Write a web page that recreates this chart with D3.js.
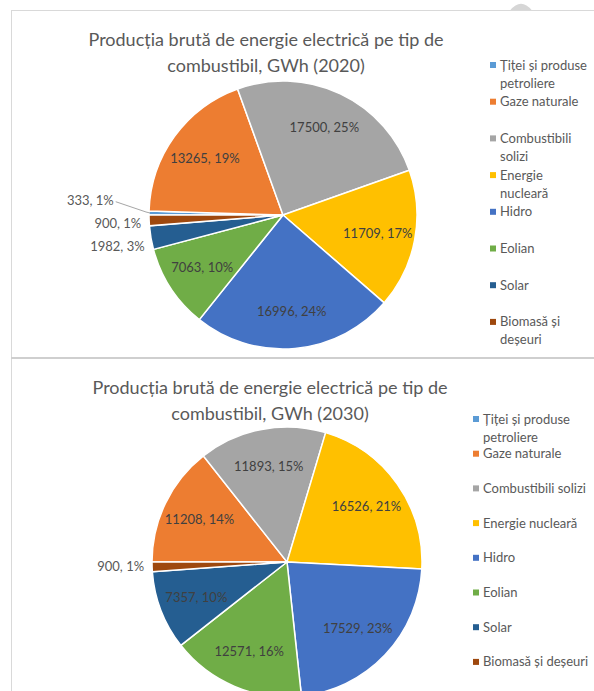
<!DOCTYPE html>
<html>
<head>
<meta charset="utf-8">
<script src="https://cdn.jsdelivr.net/npm/d3@7"></script>
<style>
    html, body { margin: 0; padding: 0; background: #fff; }
    svg { display: block; font-family: Lato, "Open Sans", sans-serif; }
</style>
</head>
<body>
<div id="chart"></div>
<script>

// data

var categories = ['Țiței și produse petroliere', 'Gaze naturale', 'Combustibili solizi', 'Energie nucleară',
    'Hidro', 'Eolian', 'Solar', 'Biomasă și deșeuri'];

var colors = ['#5B9BD5', '#ED7D31', '#A5A5A5', '#FFC000', '#4472C4', '#70AD47', '#255E91', '#9E480E'];

var values2020 = [333, 13265, 17500, 11709, 16996, 7063, 1982, 900];
var percent2020 = [1, 19, 25, 17, 24, 10, 3, 1];

var values2030 = [0, 11208, 11893, 16526, 17529, 12571, 7357, 900];
var percent2030 = [0, 14, 15, 21, 23, 16, 10, 1];

var title2020 = ['Producția brută de energie electrică pe tip de', 'combustibil, GWh (2020)'];
var title2030 = ['Producția brută de energie electrică pe tip de', 'combustibil, GWh (2030)'];

var width = 594,
    height = 691;

var svg = d3.select('#chart').append('svg')
    .attr('width', width)
    .attr('height', height);

// frame of the two chart boxes
var frame = svg.append('g').attr('fill', 'none');
frame.append('path')
    .attr('d', 'M510,10.5 Q521,-3 532,10.5 Z')
    .attr('fill', '#d6d6d6');
frame.append('line').attr('x1', 11).attr('y1', 10.5).attr('x2', width).attr('y2', 10.5)
    .attr('stroke', '#d9d9d9');
frame.append('line').attr('x1', 11.5).attr('y1', 10).attr('x2', 11.5).attr('y2', height)
    .attr('stroke', '#d9d9d9');
frame.append('line').attr('x1', 11).attr('y1', 358).attr('x2', width).attr('y2', 358)
    .attr('stroke', '#cfcfcf').attr('stroke-width', 2);

function PieChart(options) {
    options = options || {};
    this.parent = options.parent;
    this.values = options.values || [];
    this.percent = options.percent || [];
    this.title = options.title || [];
    this.cx = options.cx;
    this.cy = options.cy;
    this.radius = options.radius;
    this.titleX = options.titleX;
    this.titleY = options.titleY;
    this.legendX = options.legendX;
    this.legendY = options.legendY;
    this.legendStep = options.legendStep;
    this.legendWrap = options.legendWrap;
    this.labelGap = options.labelGap || 23;
}

PieChart.prototype.render = function() {
    var self = this;
    var g = this.parent.append('g');

    // title
    var title = g.append('text')
        .attr('text-anchor', 'middle')
        .attr('fill', '#595959')
        .attr('font-size', 18);
    this.title.forEach(function(line, i) {
        title.append('tspan')
            .attr('x', self.titleX)
            .attr('y', self.titleY + i * 26)
            .text(line);
    });

    var items = categories.map(function(name, i) {
        return { name: name, value: self.values[i], percent: self.percent[i], color: colors[i] };
    });
    var total = d3.sum(items, function(d) { return d.value; });

    var pie = d3.pie()
        .sort(null)
        .startAngle(-Math.PI / 2)
        .endAngle(Math.PI * 3 / 2)
        .value(function(d) { return d.value; });

    var arcs = pie(items);
    var r = this.radius;

    var arc = d3.arc().innerRadius(0).outerRadius(r);
    var labelArc = d3.arc().innerRadius(r * 0.72).outerRadius(r * 0.72);

    var pieG = g.append('g').attr('transform', 'translate(' + this.cx + ',' + this.cy + ')');

    pieG.selectAll('path.slice')
        .data(arcs.filter(function(d) { return d.data.value > 0; }))
        .enter().append('path')
        .attr('class', 'slice')
        .attr('d', arc)
        .attr('fill', function(d) { return d.data.color; })
        .attr('stroke', '#fff')
        .attr('stroke-width', 1.5);

    function labelText(d) {
        return d.data.value + ', ' + d.data.percent + '%';
    }

    var inside = arcs.filter(function(d) { return d.data.value > 0 && d.data.value / total >= 0.05; });
    var outside = arcs.filter(function(d) { return d.data.value > 0 && d.data.value / total < 0.05; });

    pieG.selectAll('text.inside')
        .data(inside)
        .enter().append('text')
        .attr('class', 'inside')
        .attr('transform', function(d) { return 'translate(' + labelArc.centroid(d) + ')'; })
        .attr('text-anchor', 'middle')
        .attr('dy', '0.35em')
        .attr('font-size', 13)
        .attr('fill', '#404040')
        .text(labelText);

    // outside labels on the left, pushed apart vertically
    var out = outside.map(function(d) {
        var a = (d.startAngle + d.endAngle) / 2;
        return { d: d, a: a, y: -Math.cos(a) * r };
    });
    out.sort(function(a, b) { return a.y - b.y; });
    for (var k = 0; k < 60; k++) {
        for (var i = 1; i < out.length; i++) {
            var a0 = out[i - 1], a1 = out[i];
            if (a1.y - a0.y < self.labelGap) {
                var m = (a0.y + a1.y) / 2;
                a0.y = m - self.labelGap / 2;
                a1.y = m + self.labelGap / 2;
            }
        }
    }
    out.forEach(function(o) {
        var R = r + 8;
        var x = -Math.sqrt(Math.max(0, R * R - o.y * o.y));
        var small = o.d.data.value / total < 0.01;
        if (small) {
            x -= 28;
            var ex = Math.sin(o.a) * r, ey = -Math.cos(o.a) * r;
            pieG.append('polyline')
                .attr('points', [[x + 2, o.y + 1], [ex - 3, ey - 1], [ex + 1, ey]].join(' '))
                .attr('fill', 'none')
                .attr('stroke', '#a6a6a6')
                .attr('stroke-width', 1);
        }
        pieG.append('text')
            .attr('x', x)
            .attr('y', o.y)
            .attr('dy', '0.35em')
            .attr('text-anchor', 'end')
            .attr('font-size', 13)
            .attr('fill', '#595959')
            .text(labelText(o.d));
    });

    // legend
    var legend = g.append('g');
    items.forEach(function(d, i) {
        var y = self.legendY + i * self.legendStep;
        legend.append('rect')
            .attr('x', self.legendX)
            .attr('y', y - 3)
            .attr('width', 6)
            .attr('height', 6)
            .attr('fill', d.color);
        var t = legend.append('text')
            .attr('font-size', 13)
            .attr('fill', '#595959');
        var words = d.name.split(' '), line = [], lineNo = 0;
        var tspan = t.append('tspan').attr('x', self.legendX + 10).attr('y', y).attr('dy', '0.35em');
        words.forEach(function(w) {
            line.push(w);
            tspan.text(line.join(' '));
            if (tspan.node().getComputedTextLength() > self.legendWrap && line.length > 1) {
                line.pop();
                tspan.text(line.join(' '));
                line = [w];
                lineNo++;
                tspan = t.append('tspan')
                    .attr('x', self.legendX + 10)
                    .attr('y', y + lineNo * 18)
                    .attr('dy', '0.35em')
                    .text(w);
            }
        });
    });
};

var chart2020 = new PieChart({
    parent: svg,
    values: values2020,
    percent: percent2020,
    title: title2020,
    cx: 283, cy: 215, radius: 134,
    titleX: 266, titleY: 46,
    legendX: 490, legendY: 65, legendStep: 36.7, legendWrap: 90
});
chart2020.render();

var chart2030 = new PieChart({
    parent: svg,
    values: values2030,
    percent: percent2030,
    title: title2030,
    cx: 287, cy: 562, radius: 135,
    titleX: 270, titleY: 394,
    legendX: 473, legendY: 419, legendStep: 34.7, legendWrap: 112
});
chart2030.render();

</script>
</body>
</html>
